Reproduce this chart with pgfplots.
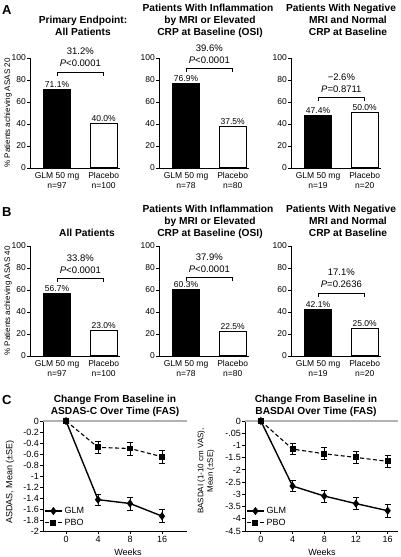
\documentclass[border=0pt]{standalone}
\usepackage{fontspec}
\setmainfont{Liberation Sans}
\usepackage{pgfplots}
\pgfplotsset{compat=1.18}

\newcommand\tf{\fontsize{10.2}{12}\selectfont\bfseries}
\newcommand\af{\fontsize{9.5}{11}\selectfont}

\pgfplotsset{
  barax/.style={
    scale only axis, width=90pt, height=110pt,
    xmin=0.42, xmax=2.35, ymin=0, ymax=100,
    axis x line=bottom, axis y line=left,
    axis line style={-, line width=0.8pt},
    ytick={0,20,40,60,80,100}, xtick={1,2},
    tick align=outside, major tick length=3pt,
    tick style={line width=0.8pt, black},
    xtick style={draw=none},
    /pgf/number format/assume math mode=true,
    yticklabel style={font=\fontsize{8.5}{10}\selectfont, inner sep=1pt},
    xticklabel style={align=center, font=\fontsize{8.5}{10.5}\selectfont, inner sep=1pt},
    clip=false,
    ybar, bar width=27pt, bar shift=0pt,
    nodes near coords={\pgfmathprintnumber[fixed,fixed zerofill,precision=1]{\pgfplotspointmeta}\%},
    every node near coord/.append style={font=\fontsize{8.5}{10}\selectfont, inner sep=1.5pt, black},
  },
  glm/.style={fill=black, draw=black, line width=0.8pt},
  pbo/.style={fill=white, draw=black, line width=1pt},
  lineax/.style={
    scale only axis, height=110pt,
    axis x line=bottom, axis y line=left,
    axis line style={-, line width=0.8pt},
    tick align=outside, major tick length=3pt,
    tick style={line width=0.8pt, black},
    /pgf/number format/assume math mode=true,
    tick label style={font=\fontsize{9}{10}\selectfont},
    yticklabel style={inner sep=1pt},
    xticklabel style={inner sep=2pt},
    clip=false,
    legend style={draw=none, fill=none, at={(0,0.01)}, anchor=south west,
      font=\fontsize{9}{10}\selectfont, row sep=0pt, inner xsep=1pt, inner ysep=1pt},
    legend cell align=left,
  },
  glmline/.style={black, line width=1.4pt, mark=diamond*, mark size=3pt, mark options={solid},
    error bars/.cd, y dir=both, y explicit,
    error bar style={line width=0.8pt, solid},
    error mark options={rotate=90, mark size=3pt, line width=0.8pt, solid}},
  pboline/.style={black, line width=1.1pt, dash pattern=on 4pt off 2.5pt, mark=square*, mark size=2.4pt, mark options={solid},
    error bars/.cd, y dir=both, y explicit,
    error bar style={line width=0.8pt, solid},
    error mark options={rotate=90, mark size=3pt, line width=0.8pt, solid}},
}

\begin{document}
\begin{tikzpicture}
\useasboundingbox (0pt,0pt) rectangle (400pt,557pt);

% ---------- panel letters ----------
\node[anchor=base west, inner sep=0, font=\fontsize{13}{13}\selectfont\bfseries] at (2pt,542pt) {A};
\node[anchor=base west, inner sep=0, font=\fontsize{13}{13}\selectfont\bfseries] at (2pt,340pt) {B};
\node[anchor=base west, inner sep=0, font=\fontsize{13}{13}\selectfont\bfseries] at (2pt,152pt) {C};

% ---------- titles row A ----------
\node[anchor=base, font=\tf] at (83pt,533pt) {Primary Endpoint:};
\node[anchor=base, font=\tf] at (83pt,521pt) {All Patients};
\node[anchor=base, font=\tf] at (208pt,545pt) {Patients With Inflammation};
\node[anchor=base, font=\tf] at (210pt,533pt) {by MRI or Elevated};
\node[anchor=base, font=\tf] at (210pt,521pt) {CRP at Baseline (OSI)};
\node[anchor=base, font=\tf] at (341pt,545pt) {Patients With Negative};
\node[anchor=base, font=\tf] at (348pt,533pt) {MRI and Normal};
\node[anchor=base, font=\tf] at (348pt,521pt) {CRP at Baseline};
% ---------- titles row B ----------
\node[anchor=base, font=\tf] at (87pt,320pt) {All Patients};
\node[anchor=base, font=\tf] at (208pt,344pt) {Patients With Inflammation};
\node[anchor=base, font=\tf] at (210pt,332pt) {by MRI or Elevated};
\node[anchor=base, font=\tf] at (210pt,320pt) {CRP at Baseline (OSI)};
\node[anchor=base, font=\tf] at (341pt,344pt) {Patients With Negative};
\node[anchor=base, font=\tf] at (348pt,332pt) {MRI and Normal};
\node[anchor=base, font=\tf] at (348pt,320pt) {CRP at Baseline};
% ---------- titles row C ----------
\node[anchor=base, font=\tf] at (115pt,154pt) {Change From Baseline in};
\node[anchor=base, font=\tf] at (115pt,142pt) {ASDAS-C Over Time (FAS)};
\node[anchor=base, font=\tf] at (316pt,154pt) {Change From Baseline in};
\node[anchor=base, font=\tf] at (316pt,142pt) {BASDAI Over Time (FAS)};

% ---------- y labels ----------
\node[rotate=90, font=\fontsize{8}{9}\selectfont] at (8pt,444pt) {\% Patients achieving ASAS 20};
\node[rotate=90, font=\fontsize{8}{9}\selectfont] at (8pt,256pt) {\% Patients achieving ASAS 40};
\node[rotate=90, font=\fontsize{9}{10}\selectfont] at (10pt,75pt) {ASDAS, Mean (±SE)};
\node[rotate=90, align=center, font=\fontsize{8}{9.5}\selectfont] at (206pt,86pt) {BASDAI (1-10 cm VAS),\\Mean (±SE)};
\node[font=\fontsize{9}{10}\selectfont] at (128pt,5pt) {Weeks};
\node[font=\fontsize{9}{10}\selectfont] at (322pt,5pt) {Weeks};

% ================= Row A =================
\begin{axis}[barax, at={(30pt,389pt)}, anchor=south west,
  xticklabels={{GLM 50 mg\\n=97},{Placebo\\n=100}}]
\addplot[glm] coordinates {(1,71.1)};
\addplot[pbo] coordinates {(2,40.0)};
\draw[line width=0.6pt] (axis cs:1,83.8) |- (axis cs:2,87.3) -- (axis cs:2,83.8);
\node[anchor=base, font=\af, yshift=5pt] at (axis cs:1.5,87.3) {\textit{P}<0.0001};
\node[anchor=base, font=\af, yshift=17pt] at (axis cs:1.5,87.3) {31.2\%};
\end{axis}

\begin{axis}[barax, at={(159pt,389pt)}, anchor=south west,
  xticklabels={{GLM 50 mg\\n=78},{Placebo\\n=80}}]
\addplot[glm] coordinates {(1,76.9)};
\addplot[pbo] coordinates {(2,37.5)};
\draw[line width=0.6pt] (axis cs:1,87.4) |- (axis cs:2,90.9) -- (axis cs:2,87.4);
\node[anchor=base, font=\af, yshift=5pt] at (axis cs:1.5,90.9) {\textit{P}<0.0001};
\node[anchor=base, font=\af, yshift=17pt] at (axis cs:1.5,90.9) {39.6\%};
\end{axis}

\begin{axis}[barax, at={(291pt,389pt)}, anchor=south west,
  xticklabels={{GLM 50 mg\\n=19},{Placebo\\n=20}}]
\addplot[glm] coordinates {(1,47.4)};
\addplot[pbo] coordinates {(2,50.0)};
\draw[line width=0.6pt] (axis cs:1,61.0) |- (axis cs:2,64.5) -- (axis cs:2,61.0);
\node[anchor=base, font=\af, yshift=5pt] at (axis cs:1.5,64.5) {\textit{P}=0.8711};
\node[anchor=base, font=\af, yshift=17pt] at (axis cs:1.5,64.5) {−2.6\%};
\end{axis}

% ================= Row B =================
\begin{axis}[barax, at={(30pt,201pt)}, anchor=south west,
  xticklabels={{GLM 50 mg\\n=97},{Placebo\\n=100}}]
\addplot[glm] coordinates {(1,56.7)};
\addplot[pbo] coordinates {(2,23.0)};
\draw[line width=0.6pt] (axis cs:1,67.4) |- (axis cs:2,70.9) -- (axis cs:2,67.4);
\node[anchor=base, font=\af, yshift=5pt] at (axis cs:1.5,70.9) {\textit{P}<0.0001};
\node[anchor=base, font=\af, yshift=17pt] at (axis cs:1.5,70.9) {33.8\%};
\end{axis}

\begin{axis}[barax, at={(159pt,201pt)}, anchor=south west,
  xticklabels={{GLM 50 mg\\n=78},{Placebo\\n=80}}]
\addplot[glm] coordinates {(1,60.3)};
\addplot[pbo] coordinates {(2,22.5)};
\draw[line width=0.6pt] (axis cs:1,68.3) |- (axis cs:2,71.8) -- (axis cs:2,68.3);
\node[anchor=base, font=\af, yshift=5pt] at (axis cs:1.5,71.8) {\textit{P}<0.0001};
\node[anchor=base, font=\af, yshift=17pt] at (axis cs:1.5,71.8) {37.9\%};
\end{axis}

\begin{axis}[barax, at={(291pt,201pt)}, anchor=south west,
  xticklabels={{GLM 50 mg\\n=19},{Placebo\\n=20}}]
\addplot[glm] coordinates {(1,42.1)};
\addplot[pbo] coordinates {(2,25.0)};
\draw[line width=0.6pt] (axis cs:1,53.8) |- (axis cs:2,57.3) -- (axis cs:2,53.8);
\node[anchor=base, font=\af, yshift=5pt] at (axis cs:1.5,57.3) {\textit{P}=0.2636};
\node[anchor=base, font=\af, yshift=17pt] at (axis cs:1.5,57.3) {17.1\%};
\end{axis}

% ================= Row C =================
\begin{axis}[lineax, at={(43pt,26pt)}, anchor=south west, width=144pt,
  xmin=-0.72, xmax=3.78, ymin=-2, ymax=0,
  xtick={0,1,2,3}, xticklabels={0,4,8,16},
  ytick={-2,-1.8,-1.6,-1.4,-1.2,-1,-0.8,-0.6,-0.4,-0.2,0},
  yticklabels={-2,-1.8,-1.6,-1.4,-1.2,-1,-0.8,-0.6,-0.4,-0.2,0}]
\addplot[gray!60, line width=1.6pt, forget plot] coordinates {(-0.72,0) (3.78,0)};
\addplot[glmline] coordinates {(0,0) +- (0,0) (1,-1.43) +- (0,0.10) (2,-1.50) +- (0,0.12) (3,-1.73) +- (0,0.12)};
\addplot[pboline] coordinates {(0,0) +- (0,0) (1,-0.48) +- (0,0.11) (2,-0.50) +- (0,0.12) (3,-0.65) +- (0,0.12)};
\legend{GLM,PBO}
\end{axis}

\begin{axis}[lineax, at={(245pt,26pt)}, anchor=south west, width=153pt,
  xmin=-2, xmax=17.3, ymin=-4.5, ymax=0,
  xtick={0,4,8,12,16},
  ytick={-4.5,-4,-3.5,-3,-2.5,-2,-1.5,-1,-0.5,0},
  yticklabels={-4.5,-4,-3.5,-3,-2.5,-2,-1.5,-1,-.05,0}]
\addplot[gray!60, line width=1.6pt, forget plot] coordinates {(-2,0) (17.3,0)};
\addplot[glmline] coordinates {(0,0) +- (0,0) (4,-2.66) +- (0,0.22) (8,-3.07) +- (0,0.24) (12,-3.38) +- (0,0.24) (16,-3.67) +- (0,0.26)};
\addplot[pboline] coordinates {(0,0) +- (0,0) (4,-1.15) +- (0,0.23) (8,-1.34) +- (0,0.25) (12,-1.49) +- (0,0.24) (16,-1.65) +- (0,0.24)};
\legend{GLM,PBO}
\end{axis}

\end{tikzpicture}
\end{document}
